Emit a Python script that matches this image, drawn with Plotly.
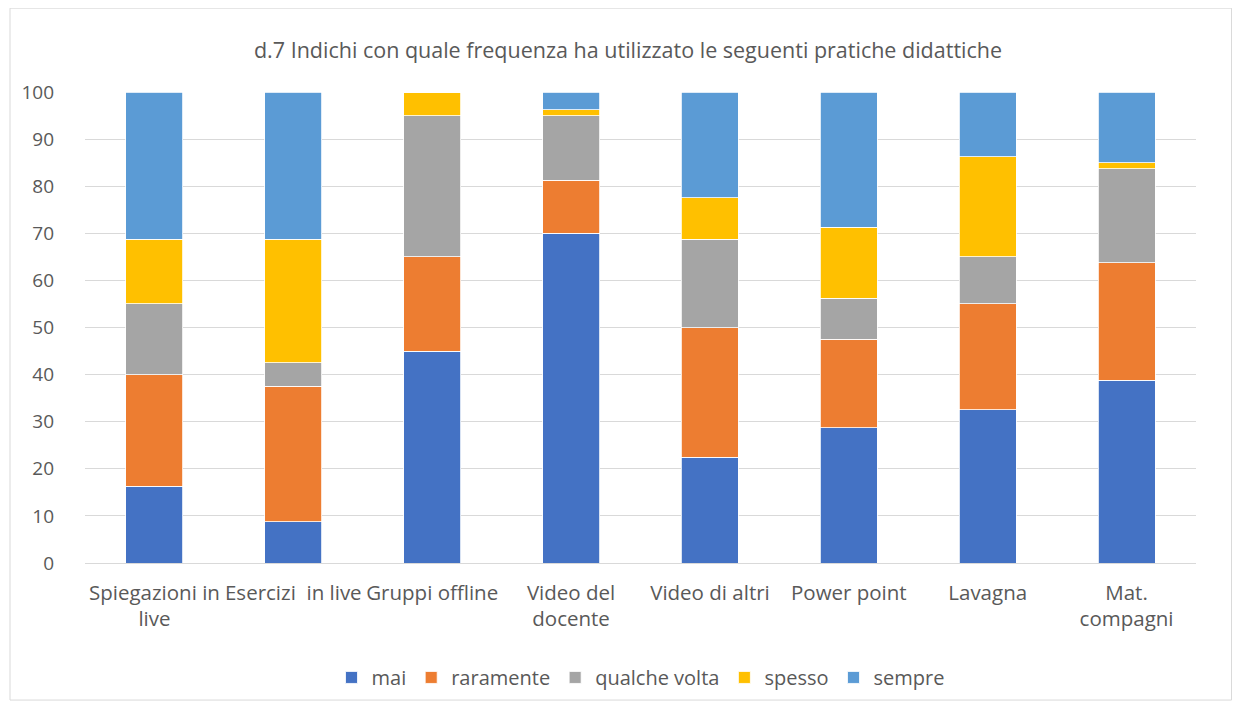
import plotly.graph_objects as go

categories = ["Spiegazioni in<br>live", "Esercizi  in live", "Gruppi offline", "Video del<br>docente",
              "Video di altri", "Power point", "Lavagna", "Mat.<br>compagni"]
mai = [16.25, 8.75, 45, 70, 22.5, 28.75, 32.5, 38.75]
raramente = [23.75, 28.75, 20, 11.25, 27.5, 18.75, 22.5, 25]
qualche_volta = [15, 5, 30, 13.75, 18.75, 8.75, 10, 20]
spesso = [13.75, 26.25, 5, 1.25, 8.75, 15, 21.25, 1.25]
sempre = [31.25, 31.25, 0, 3.75, 22.5, 28.75, 13.75, 15]

series = [("mai", mai, "#4472C4"), ("raramente", raramente, "#ED7D31"),
          ("qualche volta", qualche_volta, "#A5A5A5"), ("spesso", spesso, "#FFC000"),
          ("sempre", sempre, "#5B9BD5")]

fig = go.Figure()
for name, vals, col in series:
    fig.add_trace(go.Bar(x=categories, y=vals, name=name, marker=dict(color=col, line=dict(color="white", width=0.8))))

font = "'Open Sans', sans-serif"
fig.update_layout(
    barmode="stack", bargap=0.59,
    width=1240, height=709,
    paper_bgcolor="white", plot_bgcolor="white",
    margin=dict(l=77, r=52, t=84, b=154),
    title=dict(text="d.7 Indichi con quale frequenza ha utilizzato le seguenti pratiche didattiche",
               x=0.5, xanchor="center", y=0.94, yanchor="middle",
               font=dict(family=font, size=21.5, color="#595959")),
    font=dict(family=font, size=20, color="#595959"),
    legend=dict(orientation="h", x=0.5, xanchor="center", y=-0.243, yanchor="middle",
                font=dict(size=20, color="#595959"), traceorder="normal", itemwidth=30),
    yaxis=dict(range=[0, 100], dtick=10, showgrid=True, gridcolor="#D9D9D9", gridwidth=1,
               zeroline=False, showline=False, ticks="", tickfont=dict(size=19, color="#595959"),
               ticklabelstandoff=30),
    xaxis=dict(showline=True, linecolor="#D9D9D9", linewidth=1, ticks="",
               tickfont=dict(size=20.5, color="#595959"), tickangle=0, ticklabelstandoff=11),
    shapes=[dict(type="rect", xref="paper", yref="paper", x0=-0.0675, x1=1.032, y0=-0.291, y1=1.178,
                 line=dict(color="#D9D9D9", width=1), fillcolor="rgba(0,0,0,0)", layer="below")],
)
fig.write_html("out.html")
